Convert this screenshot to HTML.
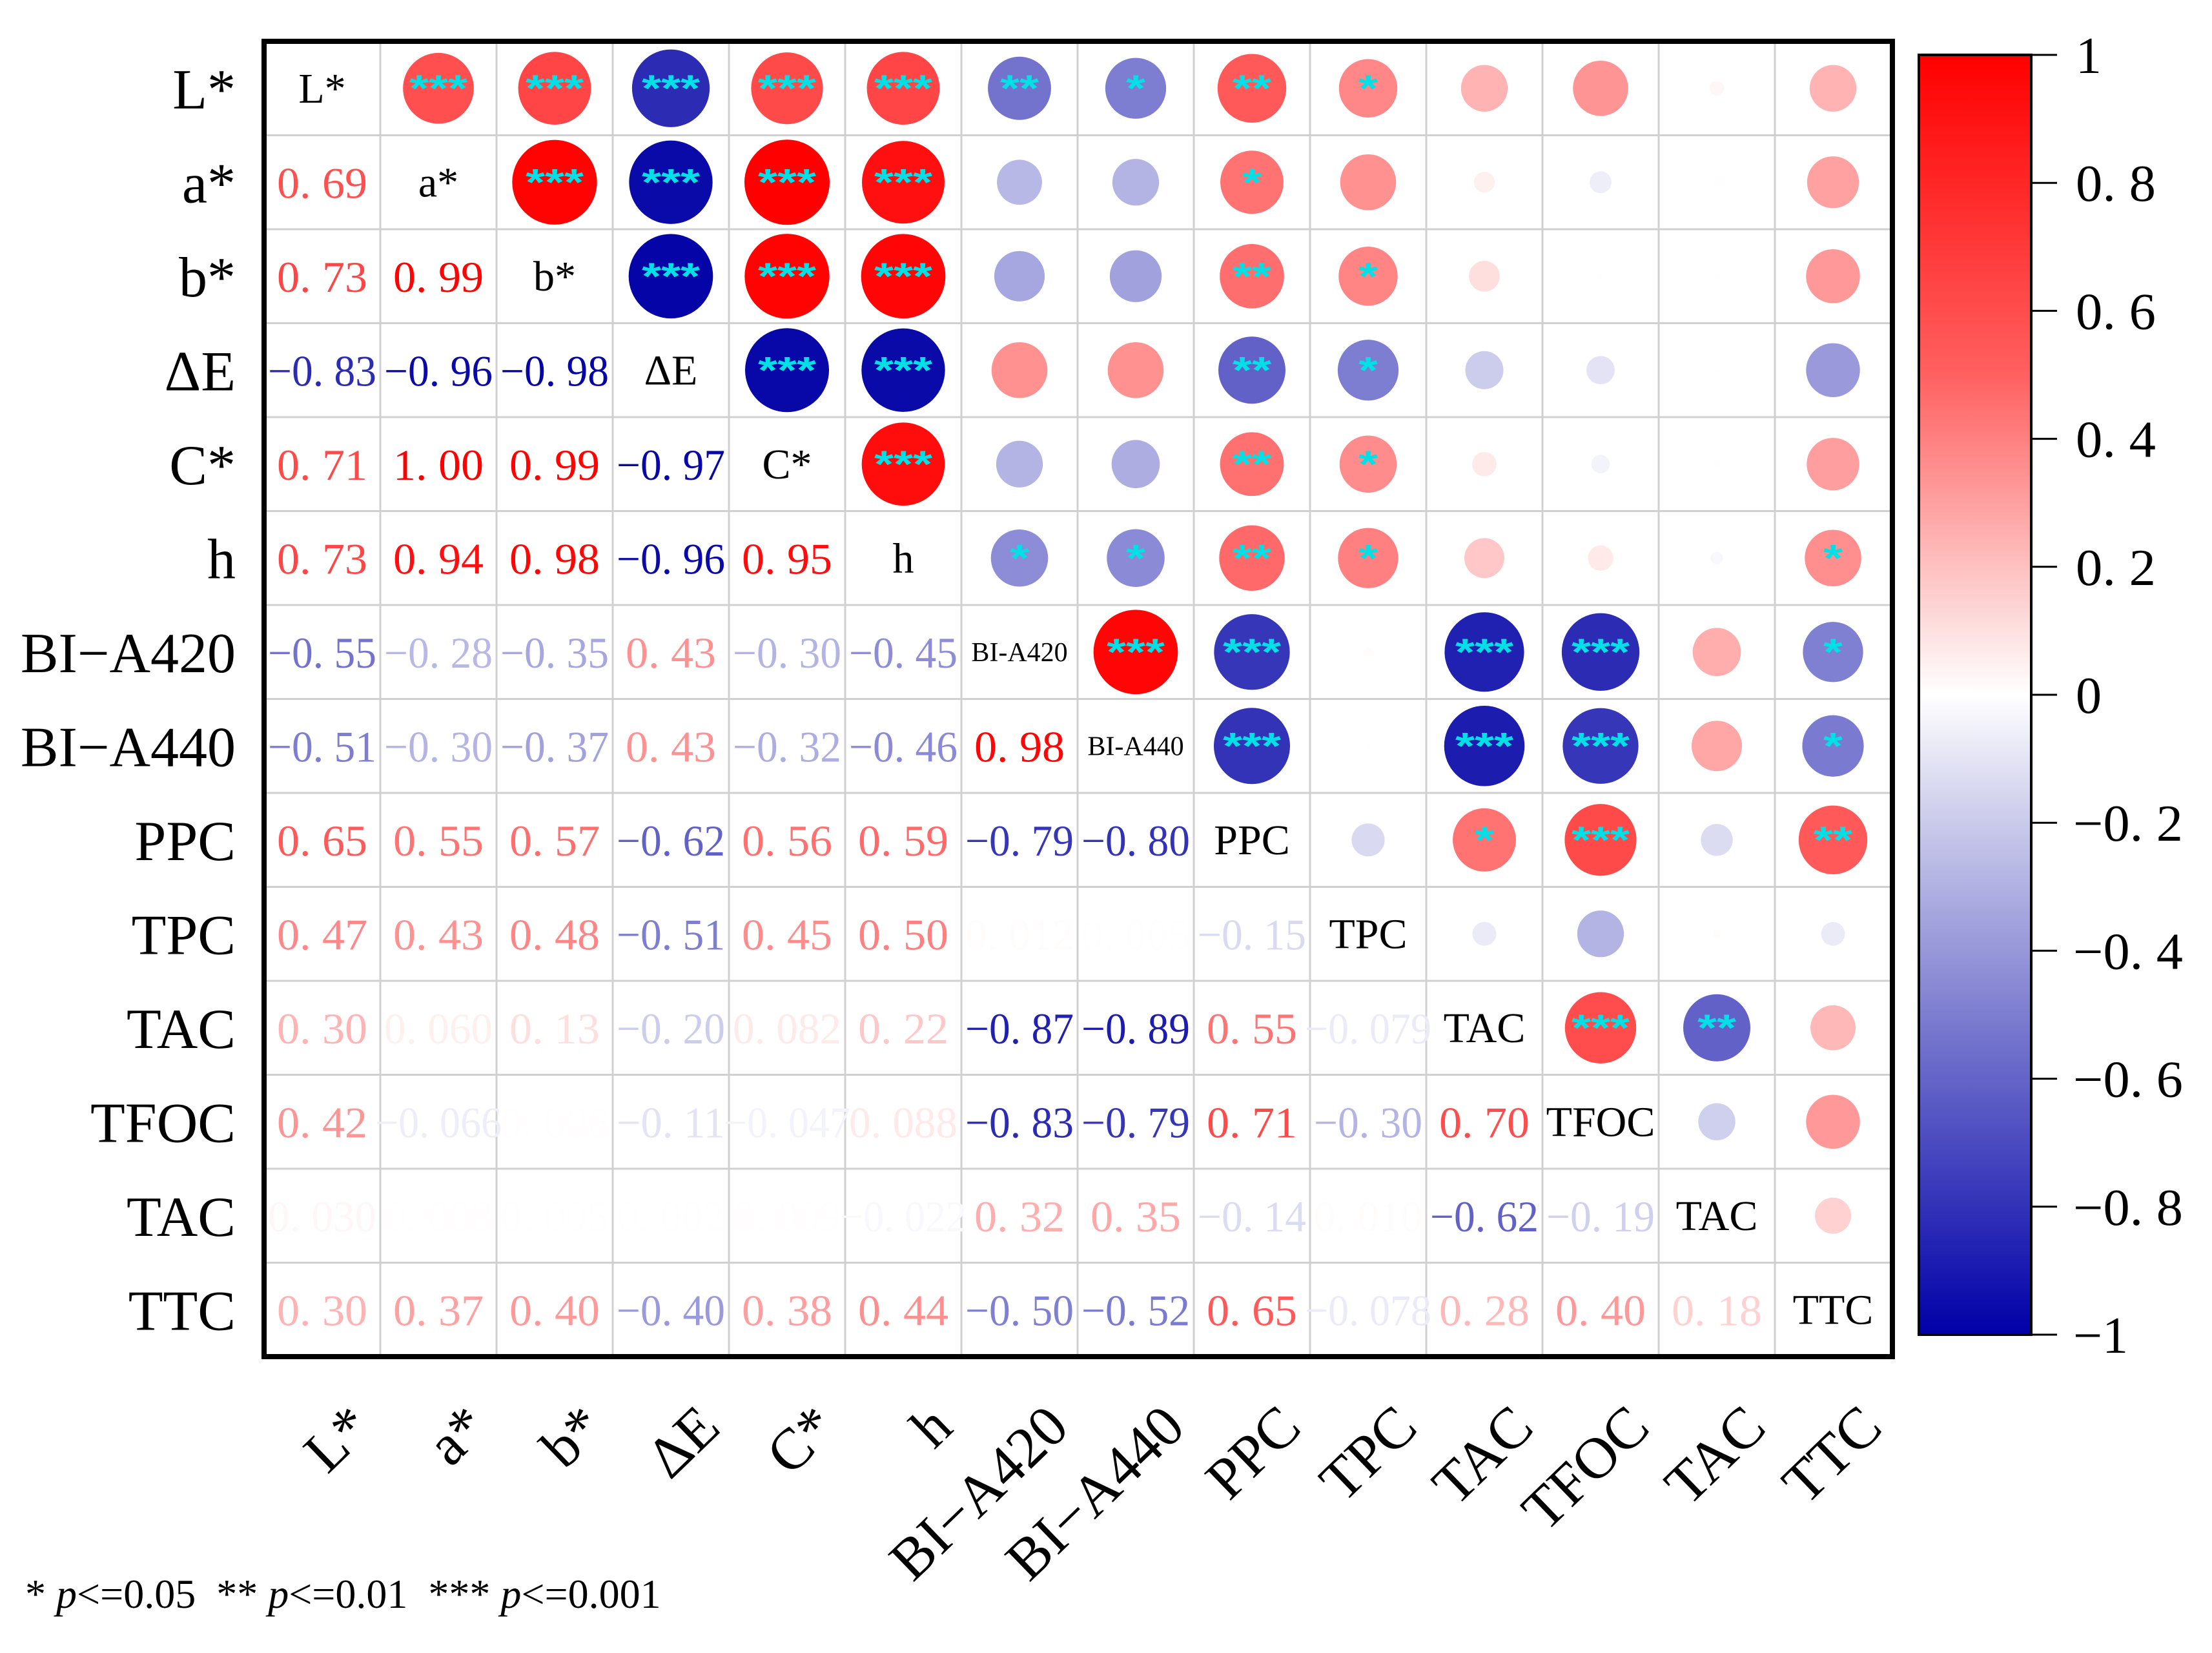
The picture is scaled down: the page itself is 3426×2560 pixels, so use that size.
<!DOCTYPE html>
<html><head><meta charset="utf-8">
<style>
html,body{margin:0;padding:0;background:#fff;}
svg{display:block;}
</style></head>
<body>
<svg id="chart" width="3426" height="2560" viewBox="0 0 3426 2560" xmlns="http://www.w3.org/2000/svg">
<defs>
<linearGradient id="cbgrad" x1="0" y1="0" x2="0" y2="1">
<stop offset="0" stop-color="#ff0000"/>
<stop offset="0.25" stop-color="#ff6060"/>
<stop offset="0.45" stop-color="#fde0e0"/>
<stop offset="0.5" stop-color="#ffffff"/>
<stop offset="0.55" stop-color="#e4e4f4"/>
<stop offset="0.75" stop-color="#7d7dd0"/>
<stop offset="1" stop-color="#0000a8"/>
</linearGradient>
</defs>
<g id="grid"></g>
<g id="cells"></g>
<rect x="409" y="64" width="2522" height="2037" fill="none" stroke="#000" stroke-width="8"/>
<g id="rowlabels"></g>
<g id="collabels"></g>
<rect x="2972" y="85" width="174" height="1982" fill="url(#cbgrad)" stroke="#000" stroke-width="4"/>
<g id="cbticks"></g>
<text x="39" y="2490" font-family="Liberation Serif, serif" font-size="64" fill="#000" xml:space="preserve">* <tspan font-style="italic">p</tspan>&lt;=0.05  ** <tspan font-style="italic">p</tspan>&lt;=0.01  *** <tspan font-style="italic">p</tspan>&lt;=0.001</text>
</svg>
<script>
const labels = ["L*","a*","b*","ΔE","C*","h","BI−A420","BI−A440","PPC","TPC","TAC","TFOC","TAC","TTC"];
const diagLabels = ["L*","a*","b*","ΔE","C*","h","BI-A420","BI-A440","PPC","TPC","TAC","TFOC","TAC","TTC"];
// lower-triangle correlation values, row i has i entries
const lowerValues = [
 [],
 [0.69],
 [0.73,0.99],
 [-0.83,-0.96,-0.98],
 [0.71,1.00,0.99,-0.97],
 [0.73,0.94,0.98,-0.96,0.95],
 [-0.55,-0.28,-0.35,0.43,-0.30,-0.45],
 [-0.51,-0.30,-0.37,0.43,-0.32,-0.46,0.98],
 [0.65,0.55,0.57,-0.62,0.56,0.59,-0.79,-0.80],
 [0.47,0.43,0.48,-0.51,0.45,0.50,0.012,0.005,-0.15],
 [0.30,0.060,0.13,-0.20,0.082,0.22,-0.87,-0.89,0.55,-0.079],
 [0.42,-0.066,0.006,-0.11,-0.047,0.088,-0.83,-0.79,0.71,-0.30,0.70],
 [0.030,0.008,0.005,0.002,0.009,-0.022,0.32,0.35,-0.14,0.010,-0.62,-0.19],
 [0.30,0.37,0.40,-0.40,0.38,0.44,-0.50,-0.52,0.65,-0.078,0.28,0.40,0.18]
];
// significance stars, upper triangle: row i lists stars for columns i+1..13
const upperStars = [
 [3,3,3,3,3,2,1,2,1,0,0,0,0],
 [3,3,3,3,0,0,1,0,0,0,0,0],
 [3,3,3,0,0,2,1,0,0,0,0],
 [3,3,0,0,2,1,0,0,0,0],
 [3,0,0,2,1,0,0,0,0],
 [1,1,2,1,0,0,0,1],
 [3,3,0,3,3,0,1],
 [3,0,3,3,0,1],
 [0,1,3,0,2],
 [0,0,0,0],
 [3,2,0],
 [0,0],
 [0]
];
const cbTickValues = [1,0.8,0.6,0.4,0.2,0,-0.2,-0.4,-0.6,-0.8,-1];
const cbTickLabels = ["1","0. 8","0. 6","0. 4","0. 2","0","−0. 2","−0. 4","−0. 6","−0. 8","−1"];

const NS="http://www.w3.org/2000/svg";
const X0=409, Y0=64, CW=180, RH=145.5, N=labels.length;
const cx = j => X0 + CW*(j+0.5);
const cy = i => Y0 + RH*(i+0.5);
const dia = r => 132*Math.sqrt(Math.abs(r));
const cbY = v => 85 + (1-v)/2*1982;
function color(r){
  const a=Math.min(1,Math.abs(r));
  if(r>=0){const g=Math.round(255*(1-a));return `rgb(255,${g},${g})`;}
  const g=Math.round(255*(1-a)); const b=Math.round(255-(255-165)*a);
  return `rgb(${g},${g},${b})`;
}
function val(i,j){ return i>j ? lowerValues[i][j] : lowerValues[j][i]; }
function fmt(v){
  const s = Math.abs(v)<0.1 ? Math.abs(v).toFixed(3) : Math.abs(v).toFixed(2);
  return (v<0?"−":"") + s.replace(".", ". ");
}
function mk(tag,attrs,parent){const e=document.createElementNS(NS,tag);for(const k in attrs)e.setAttribute(k,attrs[k]);parent.appendChild(e);return e;}

const grid=document.getElementById('grid');
for(let k=1;k<N;k++){
  const gl=mk('line',{x1:X0+CW*k,y1:Y0,x2:X0+CW*k,y2:Y0+RH*N,stroke:'#d0d0d0','stroke-width':3},grid);
  
  
  const hl=mk('line',{x1:X0,y1:Y0+RH*k,x2:X0+CW*N,y2:Y0+RH*k,stroke:'#d0d0d0','stroke-width':3},grid);
  
  
}

const cells=document.getElementById('cells');
for(let i=0;i<N;i++){
  for(let j=0;j<N;j++){
    if(i===j){
      const small = diagLabels[i].length>4;
      const t=mk('text',{x:cx(j),y:cy(i)+(small?14:22),'text-anchor':'middle','font-family':'Liberation Serif, serif','font-size':small?42:66,fill:'#000'},cells);
      t.textContent=diagLabels[i];
      
      
    } else if(i>j){
      const v=val(i,j), s=fmt(v);
      const t=mk('text',{x:cx(j),y:cy(i)+24,'text-anchor':'middle','font-family':'Liberation Serif, serif','font-size':68,fill:color(v),textLength:s.length*28,lengthAdjust:'spacingAndGlyphs'},cells);
      t.textContent=s;
      
      
    } else {
      const v=val(i,j), d=dia(v);
      const c=mk('ellipse',{cx:cx(j),cy:cy(i),rx:d/2,ry:d/2,fill:color(v)},cells);
      
      
      const n=upperStars[i][j-i-1];
      if(n>0){
        const st=mk('text',{x:cx(j),y:cy(i)+20,'text-anchor':'middle','font-family':'Liberation Sans, sans-serif','font-size':58,'font-weight':'bold',fill:'#00e0e6',textLength:n*30,lengthAdjust:'spacingAndGlyphs'},cells);
        st.textContent='*'.repeat(n);
        
        
      }
    }
  }
}

const rl=document.getElementById('rowlabels');
labels.forEach((l,i)=>{
  const t=mk('text',{x:365,y:cy(i)+31,'text-anchor':'end','font-family':'Liberation Serif, serif','font-size':88,fill:'#000'},rl);
  t.textContent=l;
  
  
});
const cl=document.getElementById('collabels');
labels.forEach((l,j)=>{
  const x=cx(j)+80, y=2215;
  const t=mk('text',{x:x,y:y,'text-anchor':'end','font-family':'Liberation Serif, serif','font-size':90,fill:'#000',transform:`rotate(-44 ${x} ${y})`},cl);
  t.textContent=l;
  
  
});

const cb=document.getElementById('cbticks');
cbTickValues.forEach((v,k)=>{
  const y=cbY(v);
  const ln=mk('line',{x1:3146,y1:y,x2:3186,y2:y,stroke:'#000','stroke-width':3},cb);
  
  
  const s=cbTickLabels[k];
  const neg=s.startsWith('−');
  const attrs={x:neg?3211:3215,y:y+28,'font-family':'Liberation Serif, serif','font-size':80,fill:'#000'};
  if(s.length>2){attrs.textLength=neg?170:124;attrs.lengthAdjust='spacingAndGlyphs';}
  const t=mk('text',attrs,cb);
  t.textContent=s;
  
  
});
</script>
</body></html>
